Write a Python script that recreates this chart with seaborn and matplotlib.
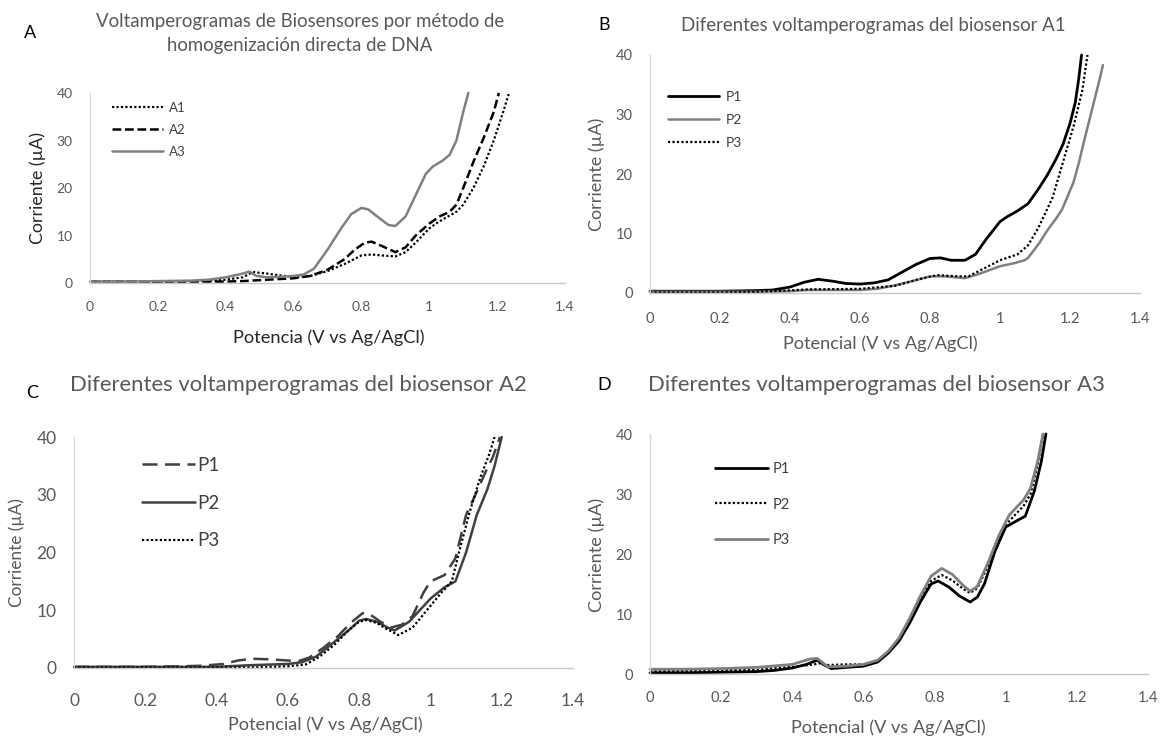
import numpy as np
import pandas as pd
import matplotlib
matplotlib.use("Agg")
import matplotlib.pyplot as plt
import seaborn as sns

sns.set_theme(style="white")
plt.rcParams['font.family'] = ['Lato', 'DejaVu Sans']

# ---------------- Data ----------------
# Panel A
A1_v = [0, 0.1, 0.2, 0.3, 0.35, 0.4, 0.45, 0.48, 0.52, 0.56, 0.6, 0.65, 0.7, 0.75, 0.8, 0.83, 0.86, 0.9, 0.93, 0.96, 1.0, 1.03, 1.06, 1.08, 1.1, 1.13, 1.16, 1.19, 1.22, 1.235]
A1_i = [0.3, 0.3, 0.3, 0.4, 0.5, 0.7, 1.2, 2.3, 2.0, 1.6, 1.3, 1.5, 2.5, 4.0, 5.8, 6.0, 5.8, 5.6, 6.5, 8.5, 11.5, 13.0, 14.2, 15.0, 16.5, 20.0, 24.5, 30.0, 36.5, 40]
A2_v = [0, 0.1, 0.2, 0.3, 0.4, 0.45, 0.5, 0.55, 0.6, 0.65, 0.7, 0.75, 0.78, 0.81, 0.83, 0.86, 0.9, 0.93, 0.96, 1.0, 1.03, 1.06, 1.08, 1.1, 1.13, 1.16, 1.19, 1.205]
A2_i = [0.3, 0.3, 0.3, 0.3, 0.3, 0.4, 0.6, 0.8, 1.0, 1.5, 2.8, 5.0, 7.0, 8.5, 8.7, 7.8, 6.5, 7.5, 10.0, 12.5, 14.0, 15.0, 16.5, 20.0, 25.5, 30.5, 36.0, 40]
A3_v = [0, 0.1, 0.2, 0.3, 0.35, 0.4, 0.44, 0.47, 0.49, 0.52, 0.56, 0.6, 0.63, 0.66, 0.7, 0.74, 0.77, 0.8, 0.82, 0.85, 0.88, 0.9, 0.93, 0.96, 0.99, 1.01, 1.04, 1.06, 1.08, 1.1, 1.115]
A3_i = [0.3, 0.3, 0.4, 0.5, 0.7, 1.2, 1.8, 2.4, 1.5, 1.2, 1.3, 1.5, 1.8, 3.0, 7.0, 11.5, 14.5, 15.8, 15.5, 13.8, 12.2, 12.0, 14.0, 18.5, 23.0, 24.5, 25.8, 27.0, 30.0, 36.0, 40]

# Panel B (biosensor A1)
B1_v = [0, 0.1, 0.2, 0.3, 0.35, 0.4, 0.44, 0.48, 0.52, 0.56, 0.6, 0.64, 0.68, 0.72, 0.76, 0.8, 0.83, 0.86, 0.9, 0.93, 0.96, 1.0, 1.02, 1.05, 1.08, 1.11, 1.135, 1.16, 1.18, 1.2, 1.215, 1.225, 1.233]
B1_i = [0.3, 0.3, 0.3, 0.4, 0.5, 1.0, 1.8, 2.3, 2.0, 1.6, 1.5, 1.7, 2.2, 3.5, 4.8, 5.8, 5.9, 5.5, 5.5, 6.5, 9.0, 12.0, 12.8, 13.8, 15.0, 17.5, 19.8, 22.5, 25.0, 28.5, 32.0, 36.0, 40]
B2_v = [0, 0.1, 0.2, 0.3, 0.4, 0.45, 0.5, 0.55, 0.6, 0.65, 0.7, 0.75, 0.8, 0.84, 0.9, 0.94, 1.0, 1.04, 1.07, 1.08, 1.11, 1.135, 1.16, 1.177, 1.19, 1.21, 1.225, 1.24, 1.255, 1.27, 1.285, 1.294]
B2_i = [0.2, 0.2, 0.2, 0.2, 0.3, 0.5, 0.5, 0.5, 0.5, 0.7, 1.3, 2.0, 2.8, 2.8, 2.5, 3.2, 4.5, 5.0, 5.5, 5.9, 8.2, 10.5, 12.5, 14.0, 15.8, 18.6, 21.8, 25.5, 29.0, 32.5, 36.0, 38.3]
B3_v = [0, 0.1, 0.2, 0.3, 0.35, 0.45, 0.6, 0.7, 0.76, 0.82, 0.88, 0.91, 0.95, 1.0, 1.05, 1.08, 1.11, 1.15, 1.18, 1.21, 1.235, 1.25]
B3_i = [0.1, 0.1, 0.1, 0.2, 0.3, 0.6, 0.7, 1.2, 2.2, 3.0, 2.8, 2.8, 4.0, 5.5, 6.5, 8.0, 11.0, 16.0, 22.0, 28.0, 34.0, 40]

# Panel C (biosensor A2)
C1_v = [0, 0.1, 0.2, 0.3, 0.36, 0.42, 0.46, 0.5, 0.55, 0.6, 0.63, 0.66, 0.7, 0.74, 0.78, 0.81, 0.83, 0.86, 0.89, 0.92, 0.95, 0.98, 1.0, 1.04, 1.07, 1.1, 1.13, 1.155, 1.175, 1.195]
C1_i = [0.2, 0.2, 0.2, 0.3, 0.4, 0.7, 1.3, 1.6, 1.5, 1.3, 1.2, 1.8, 3.5, 5.5, 8.0, 9.5, 9.3, 8.0, 7.0, 7.5, 9.0, 13.0, 15.0, 16.1, 19.0, 26.5, 30.5, 34.0, 36.5, 40]
C2_v = [0, 0.1, 0.2, 0.3, 0.4, 0.5, 0.6, 0.64, 0.68, 0.72, 0.77, 0.8, 0.82, 0.85, 0.88, 0.9, 0.94, 0.97, 1.0, 1.04, 1.07, 1.1, 1.13, 1.16, 1.18, 1.2]
C2_i = [0.2, 0.2, 0.2, 0.2, 0.2, 0.5, 0.7, 1.0, 2.0, 4.0, 6.5, 8.2, 8.5, 8.0, 7.0, 6.5, 8.0, 10.0, 12.0, 14.0, 15.0, 20.0, 26.5, 31.0, 35.0, 40]
C3_v = [0, 0.1, 0.2, 0.3, 0.4, 0.5, 0.6, 0.65, 0.69, 0.73, 0.77, 0.8, 0.82, 0.85, 0.87, 0.91, 0.95, 0.99, 1.03, 1.06, 1.08, 1.11, 1.14, 1.165, 1.18]
C3_i = [0.1, 0.1, 0.1, 0.1, 0.1, 0.1, 0.3, 0.6, 2.0, 4.0, 6.5, 8.0, 8.3, 7.8, 7.0, 5.7, 7.0, 10.0, 13.0, 15.0, 20.0, 27.0, 33.0, 37.0, 40]

# Panel D (biosensor A3)
D1_v = [0, 0.1, 0.2, 0.3, 0.35, 0.4, 0.44, 0.47, 0.49, 0.51, 0.55, 0.6, 0.64, 0.67, 0.7, 0.73, 0.76, 0.79, 0.81, 0.84, 0.87, 0.9, 0.92, 0.94, 0.97, 1.0, 1.03, 1.055, 1.08, 1.1, 1.113]
D1_i = [0.2, 0.2, 0.3, 0.4, 0.6, 1.0, 1.6, 2.3, 1.5, 0.9, 1.1, 1.3, 2.0, 3.5, 5.5, 8.5, 12.0, 15.0, 15.5, 14.5, 13.0, 12.0, 12.8, 15.0, 20.5, 24.5, 25.5, 26.3, 30.4, 35.4, 40]
D2_v = [0, 0.1, 0.2, 0.3, 0.4, 0.45, 0.48, 0.5, 0.55, 0.6, 0.64, 0.67, 0.7, 0.73, 0.76, 0.79, 0.82, 0.85, 0.88, 0.9, 0.92, 0.95, 0.98, 1.01, 1.05, 1.07, 1.09, 1.105]
D2_i = [0.5, 0.5, 0.6, 0.7, 1.2, 1.5, 1.8, 1.5, 1.6, 1.6, 2.2, 3.6, 5.8, 9.0, 12.7, 15.5, 16.5, 15.6, 14.2, 13.5, 14.3, 18.0, 22.5, 25.5, 28.0, 30.0, 35.0, 40]
D3_v = [0, 0.1, 0.2, 0.3, 0.4, 0.45, 0.47, 0.5, 0.55, 0.6, 0.64, 0.67, 0.7, 0.73, 0.76, 0.79, 0.82, 0.85, 0.88, 0.9, 0.92, 0.95, 0.98, 1.01, 1.05, 1.07, 1.09, 1.105]
D3_i = [0.8, 0.8, 0.9, 1.1, 1.6, 2.5, 2.6, 1.2, 1.3, 1.6, 2.3, 3.8, 6.0, 9.3, 13.0, 16.3, 17.6, 16.6, 14.8, 13.8, 14.6, 18.5, 23.0, 26.5, 29.0, 31.0, 35.5, 40]

# ---------------- Figure ----------------
W, H = 1166, 747
fig = plt.figure(figsize=(W / 100, H / 100), dpi=100)
renderer = fig.canvas.get_renderer()


def axes_px(x0, x14, ybot, ytop):
    left = x0 / W
    width = (x14 - x0) / W
    bottom = 1 - ybot / H
    height = (ybot - ytop) / H
    return fig.add_axes([left, bottom, width, height])


axA = axes_px(90, 565, 283, 93)
axB = axes_px(650, 1140, 293, 55)
axC = axes_px(74, 573, 668, 437)
axD = axes_px(650, 1148, 674, 434)

BLACK = "#000000"
GRAY = "#808080"
DGRAY = "#404040"


def draw(ax, v, i, color, ls, label, lw=1.8):
    sns.lineplot(x=v, y=i, ax=ax, color=color, linestyle=ls, linewidth=lw,
                 sort=False, estimator=None, label=label, clip_on=False)


draw(axA, A1_v, A1_i, BLACK, (0, (1, 1)), "A1", 1.6)
draw(axA, A2_v, A2_i, BLACK, (0, (3.5, 1.5)), "A2", 1.8)
draw(axA, A3_v, A3_i, GRAY, "-", "A3", 1.8)

draw(axB, B1_v, B1_i, BLACK, "-", "P1", 2.0)
draw(axB, B2_v, B2_i, GRAY, "-", "P2", 1.8)
draw(axB, B3_v, B3_i, BLACK, (0, (1, 1)), "P3", 1.6)

draw(axC, C1_v, C1_i, DGRAY, (0, (6, 3)), "P1", 1.8)
draw(axC, C2_v, C2_i, DGRAY, "-", "P2", 1.8)
draw(axC, C3_v, C3_i, BLACK, (0, (1, 1)), "P3", 1.6)

draw(axD, D1_v, D1_i, BLACK, "-", "P1", 2.0)
draw(axD, D2_v, D2_i, BLACK, (0, (1, 1)), "P2", 1.6)
draw(axD, D3_v, D3_i, GRAY, "-", "P3", 2.0)

tick_sizes = {axA: 10, axB: 10.5, axC: 12.5, axD: 10.5}
xpads = {axA: 13, axB: 13.5, axC: 18, axD: 12.5}
for ax in (axA, axB, axC, axD):
    ax.set_xlim(0, 1.4)
    ax.set_ylim(0, 40)
    ax.set_xticks([0, 0.2, 0.4, 0.6, 0.8, 1.0, 1.2, 1.4])
    ax.set_xticklabels(["0", "0.2", "0.4", "0.6", "0.8", "1", "1.2", "1.4"])
    ax.set_yticks([0, 10, 20, 30, 40])
    ax.set_yticklabels(["0", "10", "20", "30", "40"])
    ax.tick_params(axis="both", length=0, labelsize=tick_sizes[ax], labelcolor="#595959")
    ax.tick_params(axis="x", pad=xpads[ax])
    ax.tick_params(axis="y", pad=12.5)
    for s in ("top", "right"):
        ax.spines[s].set_visible(False)
    ax.spines["left"].set_color("#d9d9d9")
    ax.spines["bottom"].set_color("#c8c8c8")
    ax.spines["left"].set_linewidth(1.0)
    ax.spines["bottom"].set_linewidth(1.0)
    ax.set_xlabel("")
    ax.set_ylabel("")
    ax.grid(False)
    ax.set_facecolor("none")


def legend(ax, x, y, fs, spacing, hl, tp):
    leg = ax.legend(loc="upper left", bbox_to_anchor=(x / W, 1 - y / H),
                    bbox_transform=fig.transFigure, frameon=False,
                    fontsize=fs, labelspacing=spacing, handlelength=hl,
                    handletextpad=tp, borderpad=0, borderaxespad=0)
    for t in leg.get_texts():
        t.set_color("#404040")


legend(axA, 112, 102, 9.5, 0.74, 3.9, 0.45)
legend(axB, 668, 91, 10, 0.8, 3.7, 0.45)
legend(axC, 142, 457, 13.5, 1.1, 2.8, 0.15)
legend(axD, 715, 462, 10.5, 1.48, 3.6, 0.35)


def fit_text(x, y, s, target, rotation=0, color="#595959", size=None):
    t = fig.text(x / W, 1 - y / H, s, ha="center", va="center", rotation=rotation,
                 fontsize=10, color=color)
    if size is None:
        bb = t.get_window_extent(renderer=renderer)
        cur = bb.width if rotation == 0 else bb.height
        size = 10 * target / cur
    t.set_fontsize(size)
    return size


# Titles
sA = fit_text(300, 22, "Voltamperogramas de Biosensores por método de", 411)
fit_text(300, 45, "homogenización directa de DNA", 0, size=sA)
fit_text(873, 25, "Diferentes voltamperogramas del biosensor A1", 385)
fit_text(298, 385, "Diferentes voltamperogramas del biosensor A2", 458)
fit_text(876, 385, "Diferentes voltamperogramas del biosensor A3", 458)

# Panel letters
for ch, x, y in (("A", 30, 33), ("B", 604, 25), ("C", 32, 393), ("D", 604, 385)):
    fig.text(x / W, 1 - y / H, ch, ha="center", va="center", fontsize=13, color="#000000")

# Axis labels
fit_text(329, 338, "Potencia (V vs Ag/AgCl)", 191, color="#262626")
fit_text(38, 188, "Corriente (µA)", 112, rotation=90, color="#262626")
fit_text(880, 344, "Potencial (V vs Ag/AgCl)", 195)
fit_text(597, 174, "Corriente (µA)", 114, rotation=90)
fit_text(325, 725, "Potencial (V vs Ag/AgCl)", 195)
fit_text(17, 553, "Corriente (µA)", 109, rotation=90)
fit_text(888, 728, "Potencial (V vs Ag/AgCl)", 195)
fit_text(597, 555, "Corriente (µA)", 115, rotation=90)

fig.savefig("out.png", dpi=100)
